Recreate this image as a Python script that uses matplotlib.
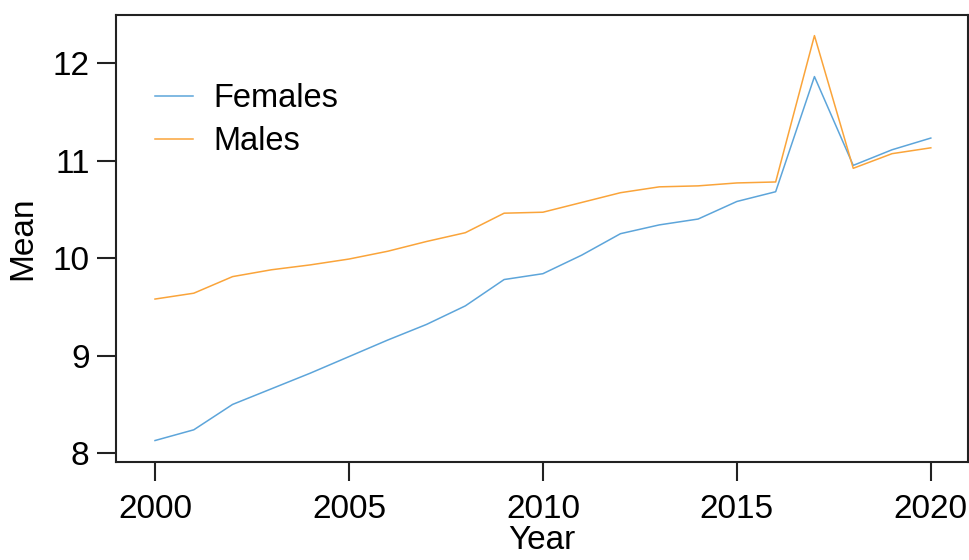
import matplotlib

matplotlib.use("Agg")
import matplotlib.pyplot as plt

years = list(range(2000, 2021))
females = [8.13, 8.24, 8.50, 8.66, 8.82, 8.99, 9.16, 9.32, 9.51, 9.78, 9.84,
           10.03, 10.25, 10.34, 10.40, 10.58, 10.68, 11.86, 10.95, 11.11, 11.23]
males = [9.58, 9.64, 9.81, 9.88, 9.93, 9.99, 10.07, 10.17, 10.26, 10.46, 10.47,
         10.57, 10.67, 10.73, 10.74, 10.77, 10.78, 12.28, 10.92, 11.07, 11.13]
series_names = ["Females", "Males"]
colors = ["#5DA5DA", "#FAA43A"]

plt.rcParams["font.family"] = ["Liberation Sans", "DejaVu Sans"]

fig = plt.figure(figsize=(9.7, 5.6), dpi=100)
ax = fig.add_axes([0.1196, 0.175, 0.878, 0.798])

for vals, name, c in zip([females, males], series_names, colors):
    ax.plot(years, vals, color=c, lw=1.1, label=name)

ax.set_xlim(1998.995, 2020.95)
ax.set_ylim(7.91, 12.49)
ax.set_xticks([2000, 2005, 2010, 2015, 2020])
ax.set_yticks([8, 9, 10, 11, 12])
for s in ax.spines.values():
    s.set_linewidth(1.5)
    s.set_color("#222222")
ax.tick_params(axis="both", length=14, width=1.5, color="#222222", labelsize=24)
ax.tick_params(axis="x", pad=9)
ax.tick_params(axis="y", pad=5)
# R puts Year partly off the page; keep it just inside
ax.set_xlabel("Year", fontsize=24, labelpad=0)
ax.set_ylabel("Mean", fontsize=24, labelpad=10)

ax.legend(loc="upper left", bbox_to_anchor=(0.046, 0.848), frameon=False,
          fontsize=23.5, handlelength=1.17, handletextpad=0.6,
          labelspacing=0.38, borderpad=0, borderaxespad=0)

fig.savefig("out.png", dpi=100)
